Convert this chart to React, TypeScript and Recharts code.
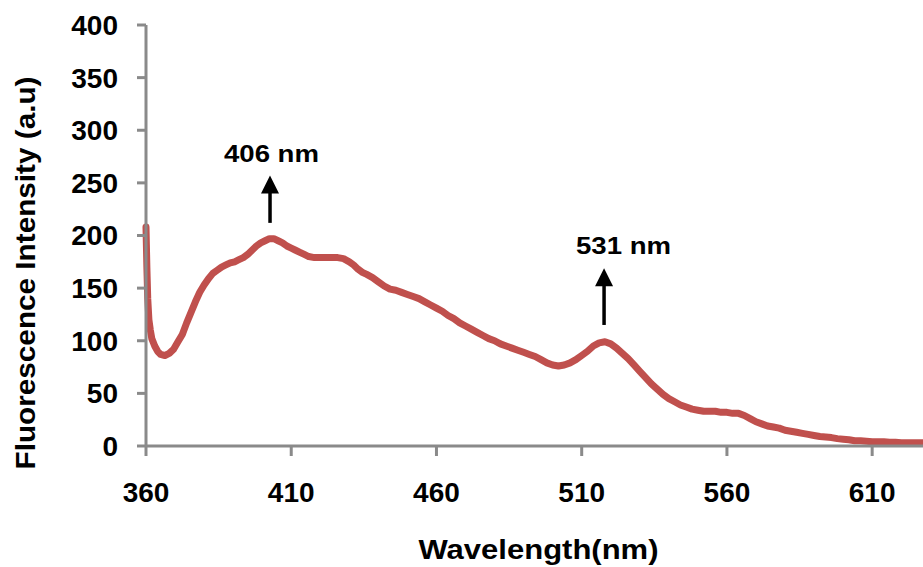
import { LineChart, Line, XAxis, YAxis, ReferenceLine, ReferenceDot } from 'recharts'

// wavelength (nm)
const wavelengths = [
  360, 360.3, 360.6, 361, 361.5, 362, 363, 364, 365, 366.5, 368, 369.5, 371, 372.5, 374, 375.5, 377,
  378.5, 380, 381.5, 383, 384.5, 386, 387.5, 389, 390.5, 392, 393.5, 395, 396.5, 398, 399.5, 401,
  402.5, 404, 405.5, 407, 408.5, 410, 411.5, 413, 414.5, 416, 418, 420, 422, 424, 426, 428, 430,
  431.5, 433, 434.5, 436, 438, 440, 442, 444, 446, 448, 450, 452, 454, 456, 458, 460, 462, 464, 466,
  468, 470, 472, 474, 476, 478, 480, 482, 484, 486, 488, 490, 492, 494, 496, 498, 500, 502, 504, 506,
  508, 510, 512, 514, 516, 518, 520, 522, 524, 526, 528, 530, 532, 534, 536, 538, 540, 542, 544, 546,
  548, 550, 552, 554, 556, 558, 560, 562, 564, 566, 568, 570, 572, 574, 576, 578, 580, 582, 584, 586,
  588, 590, 592, 594, 596, 598, 600, 602, 604, 606, 608, 610, 612, 614, 616, 618, 620, 622, 624, 626,
  627.5,
]

// fluorescence intensity (a.u)
const intensities = [
  208, 170, 140, 120, 110, 102, 95, 90, 87, 86, 88, 92, 99, 106, 117, 127, 137,
  146, 153, 159, 164, 167, 170, 172, 174, 175, 177, 179, 182, 186, 190, 193, 195,
  197, 197, 195, 193, 190, 188, 186, 184, 182, 180, 179, 179, 179, 179, 179, 178, 175,
  172, 168, 165, 163, 160, 156, 152, 149, 148, 146, 144, 142, 140, 137, 134, 131, 128, 124, 121,
  117, 114, 111, 108, 105, 102, 100, 97, 95, 93, 91, 89, 87, 85, 82, 79, 77, 76, 77, 79,
  82, 86, 90, 95, 98, 99, 97, 93, 88, 83, 77, 71, 65, 59, 54, 49, 45, 42, 39, 37,
  35, 34, 33, 33, 33, 32, 32, 31, 31, 29, 26, 23, 21, 19, 18, 17, 15, 14, 13, 12,
  11, 10, 9, 8.5, 8, 7, 6.5, 6, 5, 5, 4.5, 4, 4, 4, 3.5, 3.5, 3, 3, 3, 3,
  3,
]

const xTicks = [360, 410, 460, 510, 560, 610]
const yTicks = [0, 50, 100, 150, 200, 250, 300, 350, 400]

// peak annotations
const peakLabels = ['406 nm', '531 nm']
const peakX = [402.7, 517.7]
const arrowFrom = [212, 115]
const arrowTo = [257, 169]
const labelX = [403.2, 524.4]
const labelY = [270, 182]

const data = wavelengths.map((w, i) => ({ w, v: intensities[i] }))

const FONT = '"Liberation Sans", Arial, sans-serif'
const AXIS = '#8a8a8a'

function Arrow(props: any) {
  const { x1, y1, x2, y2 } = props
  const top = Math.min(y1, y2)
  const bottom = Math.max(y1, y2)
  const x = x1 ?? x2
  return (
    <g>
      <line x1={x} y1={bottom} x2={x} y2={top + 16} stroke="#000" strokeWidth={3.5} />
      <path d={`M${x},${top} L${x - 9},${top + 18} L${x + 9},${top + 18} Z`} fill="#000" />
    </g>
  )
}

function PeakText(text: string) {
  return (props: any) => (
    <text
      x={props.cx}
      y={props.cy}
      textAnchor="middle"
      fontFamily={FONT}
      fontWeight="bold"
      fontSize={24}
      fill="#000"
      textLength={95}
      lengthAdjust="spacingAndGlyphs"
    >
      {text}
    </text>
  )
}

function XTitle(props: any) {
  const vb = props.viewBox || { x: 146, y: 446, width: 777, height: 121 }
  return (
    <text
      x={vb.x + vb.width / 2 + 4}
      y={vb.y + vb.height - 8}
      textAnchor="middle"
      fontFamily={FONT}
      fontWeight="bold"
      fontSize={28}
      fill="#000"
      textLength={240}
      lengthAdjust="spacingAndGlyphs"
    >
      Wavelength(nm)
    </text>
  )
}

function YTitle() {
  const x = 35
  const y = 273
  return (
    <text
      x={x}
      y={y}
      transform={`rotate(-90, ${x}, ${y})`}
      textAnchor="middle"
      fontFamily={FONT}
      fontWeight="bold"
      fontSize={28}
      fill="#000"
      textLength={393}
      lengthAdjust="spacingAndGlyphs"
    >
      Fluorescence Intensity (a.u)
    </text>
  )
}

export default function App() {
  const tick = { fill: '#000', fontSize: 28, fontWeight: 'bold', fontFamily: FONT }
  return (
    <div style={{ position: 'absolute', left: 0, top: 0, width: 923, height: 567, background: '#fff' }}>
      <LineChart width={923} height={567} data={data} margin={{ top: 25, right: 0, left: 0, bottom: 0 }}>
        <XAxis
          type="number"
          dataKey="w"
          domain={[360, 627.5]}
          ticks={xTicks}
          height={121}
          tick={tick}
          tickSize={10}
          tickMargin={26}
          axisLine={{ stroke: AXIS, strokeWidth: 3 }}
          tickLine={{ stroke: AXIS, strokeWidth: 3 }}
          label={<XTitle />}
        />
        <YAxis
          type="number"
          domain={[0, 400]}
          ticks={yTicks}
          width={146}
          tick={tick}
          tickSize={9}
          tickMargin={19}
          axisLine={{ stroke: AXIS, strokeWidth: 3 }}
          tickLine={{ stroke: AXIS, strokeWidth: 3 }}
          label={<YTitle />}
        />
        <Line
          type="linear"
          dataKey="v"
          stroke="#C0504D"
          strokeWidth={7}
          strokeLinejoin="round"
          strokeLinecap="round"
          dot={false}
          isAnimationActive={false}
        />
        {peakLabels.map((t, i) => (
          <ReferenceLine
            key={'a' + i}
            segment={[
              { x: peakX[i], y: arrowFrom[i] },
              { x: peakX[i], y: arrowTo[i] },
            ]}
            shape={Arrow}
            ifOverflow="visible"
          />
        ))}
        {peakLabels.map((t, i) => (
          <ReferenceDot
            key={'t' + i}
            x={labelX[i]}
            y={labelY[i]}
            r={0}
            shape={PeakText(t)}
            ifOverflow="visible"
          />
        ))}
      </LineChart>
    </div>
  )
}
